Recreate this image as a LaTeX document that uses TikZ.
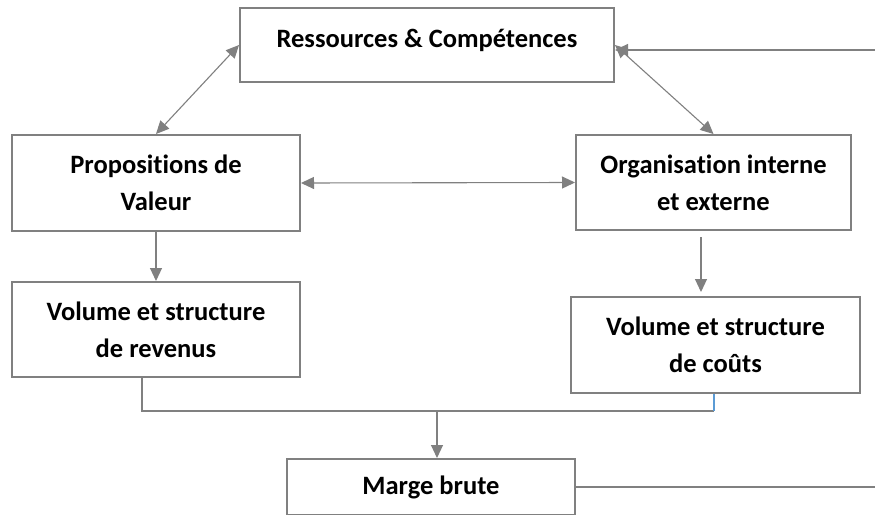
\documentclass[tikz,border=0pt]{standalone}
\usepackage{fontspec}
\setmainfont{Carlito}[Ligatures={NoCommon}]
\usetikzlibrary{arrows.meta}
\definecolor{linegray}{HTML}{808080}
\definecolor{bluelink}{HTML}{5B9BD5}
\begin{document}
\begin{tikzpicture}[x=1pt,y=-1pt,
  box/.style 2 args={draw=linegray,line width=2pt,minimum width=#1,minimum height=#2,
    inner sep=0pt,align=center,font=\bfseries\fontsize{26.5}{37}\selectfont},
  con/.style={draw=linegray,line width=1.1pt},
  arr/.style={con,-{Triangle[length=13pt,width=12pt]}},
  darr/.style={con,{Triangle[length=13pt,width=12pt]}-{Triangle[length=13pt,width=12pt]}}]
\clip (0,0) rectangle (875,514);
\fill[white] (0,0) rectangle (875,514);
% boxes
\node[box={374pt}{74pt},text height=18pt,text depth=14pt] (R) at (427,45) {Ressources \& Compétences};
\node[box={288pt}{96pt}] (P) at (156,183) {Propositions de\\Valeur};
\node[box={275pt}{95pt}] (O) at (713.5,182.5) {Organisation interne\\et externe};
\node[box={288pt}{95pt}] (V) at (156,329.5) {Volume et structure\\de revenus};
\node[box={289pt}{96pt}] (C) at (715.5,345) {Volume et structure\\de coûts};
\node[box={288pt}{56pt}] (M) at (431,487) {Marge brute};
% free ends and bends
\coordinate (inR) at (875,50);
\coordinate (outM) at (875,487);
\coordinate (oc) at (701,237);
\coordinate (vj) at (142,411);
\coordinate (cj) at (714,411);
\coordinate (mj) at (437,411);
% connectors
\draw[darr] (R.west) -- (P.north);
\draw[darr] (R.east) -- (O.north);
\draw[arr] (inR) -- (inR -| R.east);
\draw[darr] (P.east) -- (O.west);
\draw[arr] (P.south) -- (V.north);
\draw[arr,shorten >=4pt] (oc) -- (oc |- C.north);
\draw[con] (vj |- V.south) -- (vj) -- (cj);
\draw[draw=bluelink,line width=1.1pt] (cj) -- (cj |- C.south);
\draw[arr] (mj) -- (mj |- M.north);
\draw[con] (M.east) -- (outM);
\end{tikzpicture}
\end{document}
